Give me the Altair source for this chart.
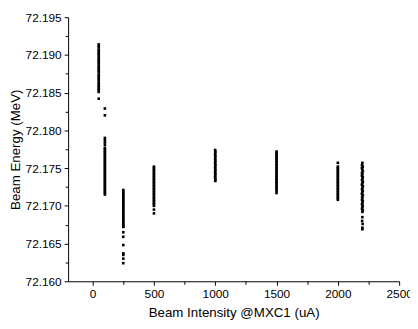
import altair as alt
import pandas as pd

# Beam intensity groups (uA) and beam energy readings (MeV)
e50 = [72.1914, 72.1912, 72.1910, 72.1907, 72.1905, 72.1903, 72.1901, 72.1899, 72.1896,
       72.1894, 72.1892, 72.1890, 72.1888, 72.1885, 72.1883, 72.1881, 72.1879, 72.1877,
       72.1874, 72.1872, 72.1870, 72.1868, 72.1866, 72.1863, 72.1861, 72.1859, 72.1857,
       72.1855, 72.1853, 72.1851, 72.1842]
e100 = [72.1829, 72.1820, 72.1790, 72.1787, 72.1784, 72.1781, 72.1777, 72.1775, 72.1773,
        72.1771, 72.1769, 72.1767, 72.1765, 72.1763, 72.1761, 72.1759, 72.1757, 72.1755,
        72.1753, 72.1751, 72.1749, 72.1747, 72.1745, 72.1743, 72.1741, 72.1739, 72.1737,
        72.1735, 72.1733, 72.1731, 72.1729, 72.1727, 72.1725, 72.1723, 72.1721, 72.1719,
        72.1717, 72.1715]
e250 = [72.1721, 72.1719, 72.1717, 72.1715, 72.1713, 72.1711, 72.1709, 72.1707, 72.1705,
        72.1703, 72.1701, 72.1699, 72.1697, 72.1695, 72.1693, 72.1691, 72.1689, 72.1687,
        72.1685, 72.1683, 72.1681, 72.1679, 72.1677, 72.1675, 72.1673, 72.1672, 72.1665,
        72.1659, 72.1648, 72.1637, 72.1635, 72.1630, 72.1624]
e500 = [72.1752, 72.1750, 72.1748, 72.1746, 72.1744, 72.1742, 72.1740, 72.1738, 72.1736,
        72.1734, 72.1732, 72.1730, 72.1728, 72.1726, 72.1724, 72.1722, 72.1720, 72.1718,
        72.1716, 72.1714, 72.1712, 72.1710, 72.1708, 72.1706, 72.1704, 72.1702, 72.1700,
        72.1695, 72.1690]
e1000 = [72.1774, 72.1772, 72.1770, 72.1768, 72.1766, 72.1764, 72.1762, 72.1760, 72.1758,
         72.1756, 72.1754, 72.1752, 72.1750, 72.1748, 72.1746, 72.1744, 72.1742, 72.1740,
         72.1738, 72.1736, 72.1734, 72.1733]
e1500 = [72.1772, 72.1770, 72.1768, 72.1766, 72.1764, 72.1762, 72.1760, 72.1758, 72.1756,
         72.1754, 72.1752, 72.1750, 72.1748, 72.1746, 72.1744, 72.1742, 72.1740, 72.1738,
         72.1736, 72.1734, 72.1732, 72.1730, 72.1728, 72.1726, 72.1724, 72.1722, 72.1720,
         72.1717]
e2000 = [72.1757, 72.1752, 72.1750, 72.1748, 72.1746, 72.1744, 72.1742, 72.1740, 72.1738,
         72.1736, 72.1734, 72.1732, 72.1730, 72.1728, 72.1726, 72.1724, 72.1722, 72.1720,
         72.1718, 72.1716, 72.1714, 72.1712, 72.1710, 72.1708]
e2200 = [72.1757, 72.1754, 72.1752, 72.1750, 72.1748, 72.1746, 72.1744, 72.1742, 72.1740,
         72.1738, 72.1736, 72.1734, 72.1732, 72.1730, 72.1728, 72.1726, 72.1724, 72.1722,
         72.1720, 72.1718, 72.1716, 72.1714, 72.1712, 72.1710, 72.1708, 72.1706, 72.1704,
         72.1702, 72.1700, 72.1698, 72.1696, 72.1694, 72.1692, 72.1685, 72.1680, 72.1676,
         72.1671, 72.1669]
x2200 = [2200, 2197, 2203, 2196, 2200, 2204, 2197, 2200, 2196, 2203, 2200, 2197, 2204, 2200,
         2196, 2204, 2200, 2197, 2203, 2200, 2196, 2204, 2198, 2200, 2197, 2203, 2200, 2197,
         2202, 2200, 2197, 2203, 2200, 2200, 2198, 2202, 2200, 2200]
x1000 = [999, 1001, 1000, 999, 1001, 1000, 999, 1001, 1000, 999, 1001, 1000, 999, 1001,
         1000, 999, 1001, 1000, 999, 1001, 1000, 1000]

groups = [(50, e50), (100, e100), (250, e250), (500, e500), (1500, e1500), (2000, e2000)]
xs, ys = [], []
for xv, vals in groups:
    xs += [xv] * len(vals)
    ys += vals
xs += x1000
ys += e1000
xs += x2200
ys += e2200
df = pd.DataFrame({"intensity": xs, "energy": ys})

x_ticks = [0, 250, 500, 750, 1000, 1250, 1500, 1750, 2000, 2250, 2500]
y_ticks = [72.160, 72.1625, 72.165, 72.1675, 72.170, 72.1725, 72.175, 72.1775,
           72.180, 72.1825, 72.185, 72.1875, 72.190, 72.1925, 72.195]

font = "Liberation Sans"

chart = alt.Chart(df).mark_square(size=7, color="black", opacity=1).encode(
    x=alt.X("intensity:Q",
            scale=alt.Scale(domain=[-200, 2500], nice=False, zero=False),
            axis=alt.Axis(title="Beam Intensity @MXC1 (uA)", values=x_ticks,
                          labelExpr="datum.value % 500 === 0 ? datum.value : ''",
                          tickSize={"condition": {"test": "datum.value % 500 === 0", "value": 4}, "value": 3},
                          grid=False, domainColor="black", tickColor="black",
                          labelColor="black", titleColor="black", labelFont=font,
                          titleFont=font, labelFontSize=12, titleFontSize=13.5,
                          titleFontWeight="normal", labelPadding=3, titlePadding=7,
                          labelFlush=False, labelOverlap=False)),
    y=alt.Y("energy:Q",
            scale=alt.Scale(domain=[72.160, 72.195], nice=False, zero=False),
            axis=alt.Axis(title="Beam Energy (MeV)", values=y_ticks, format=".3f",
                          labelExpr="round(datum.value*10000) % 50 === 0 ? format(datum.value, '.3f') : ''",
                          tickSize={"condition": {"test": "round(datum.value*10000) % 50 === 0", "value": 4}, "value": 3},
                          grid=False, domainColor="black", tickColor="black",
                          labelColor="black", titleColor="black", labelFont=font,
                          titleFont=font, labelFontSize=12, titleFontSize=13.5,
                          titleFontWeight="normal", labelPadding=3, titlePadding=3,
                          labelFlush=False, labelOverlap=False)),
).properties(
    width=336, height=268,
    autosize=alt.AutoSizeParams(type="none"),
    padding={"left": 61, "top": 7, "right": 11, "bottom": 42},
).configure_view(stroke=None)

chart.save("out.html", embed_options={"renderer": "svg", "actions": False})
